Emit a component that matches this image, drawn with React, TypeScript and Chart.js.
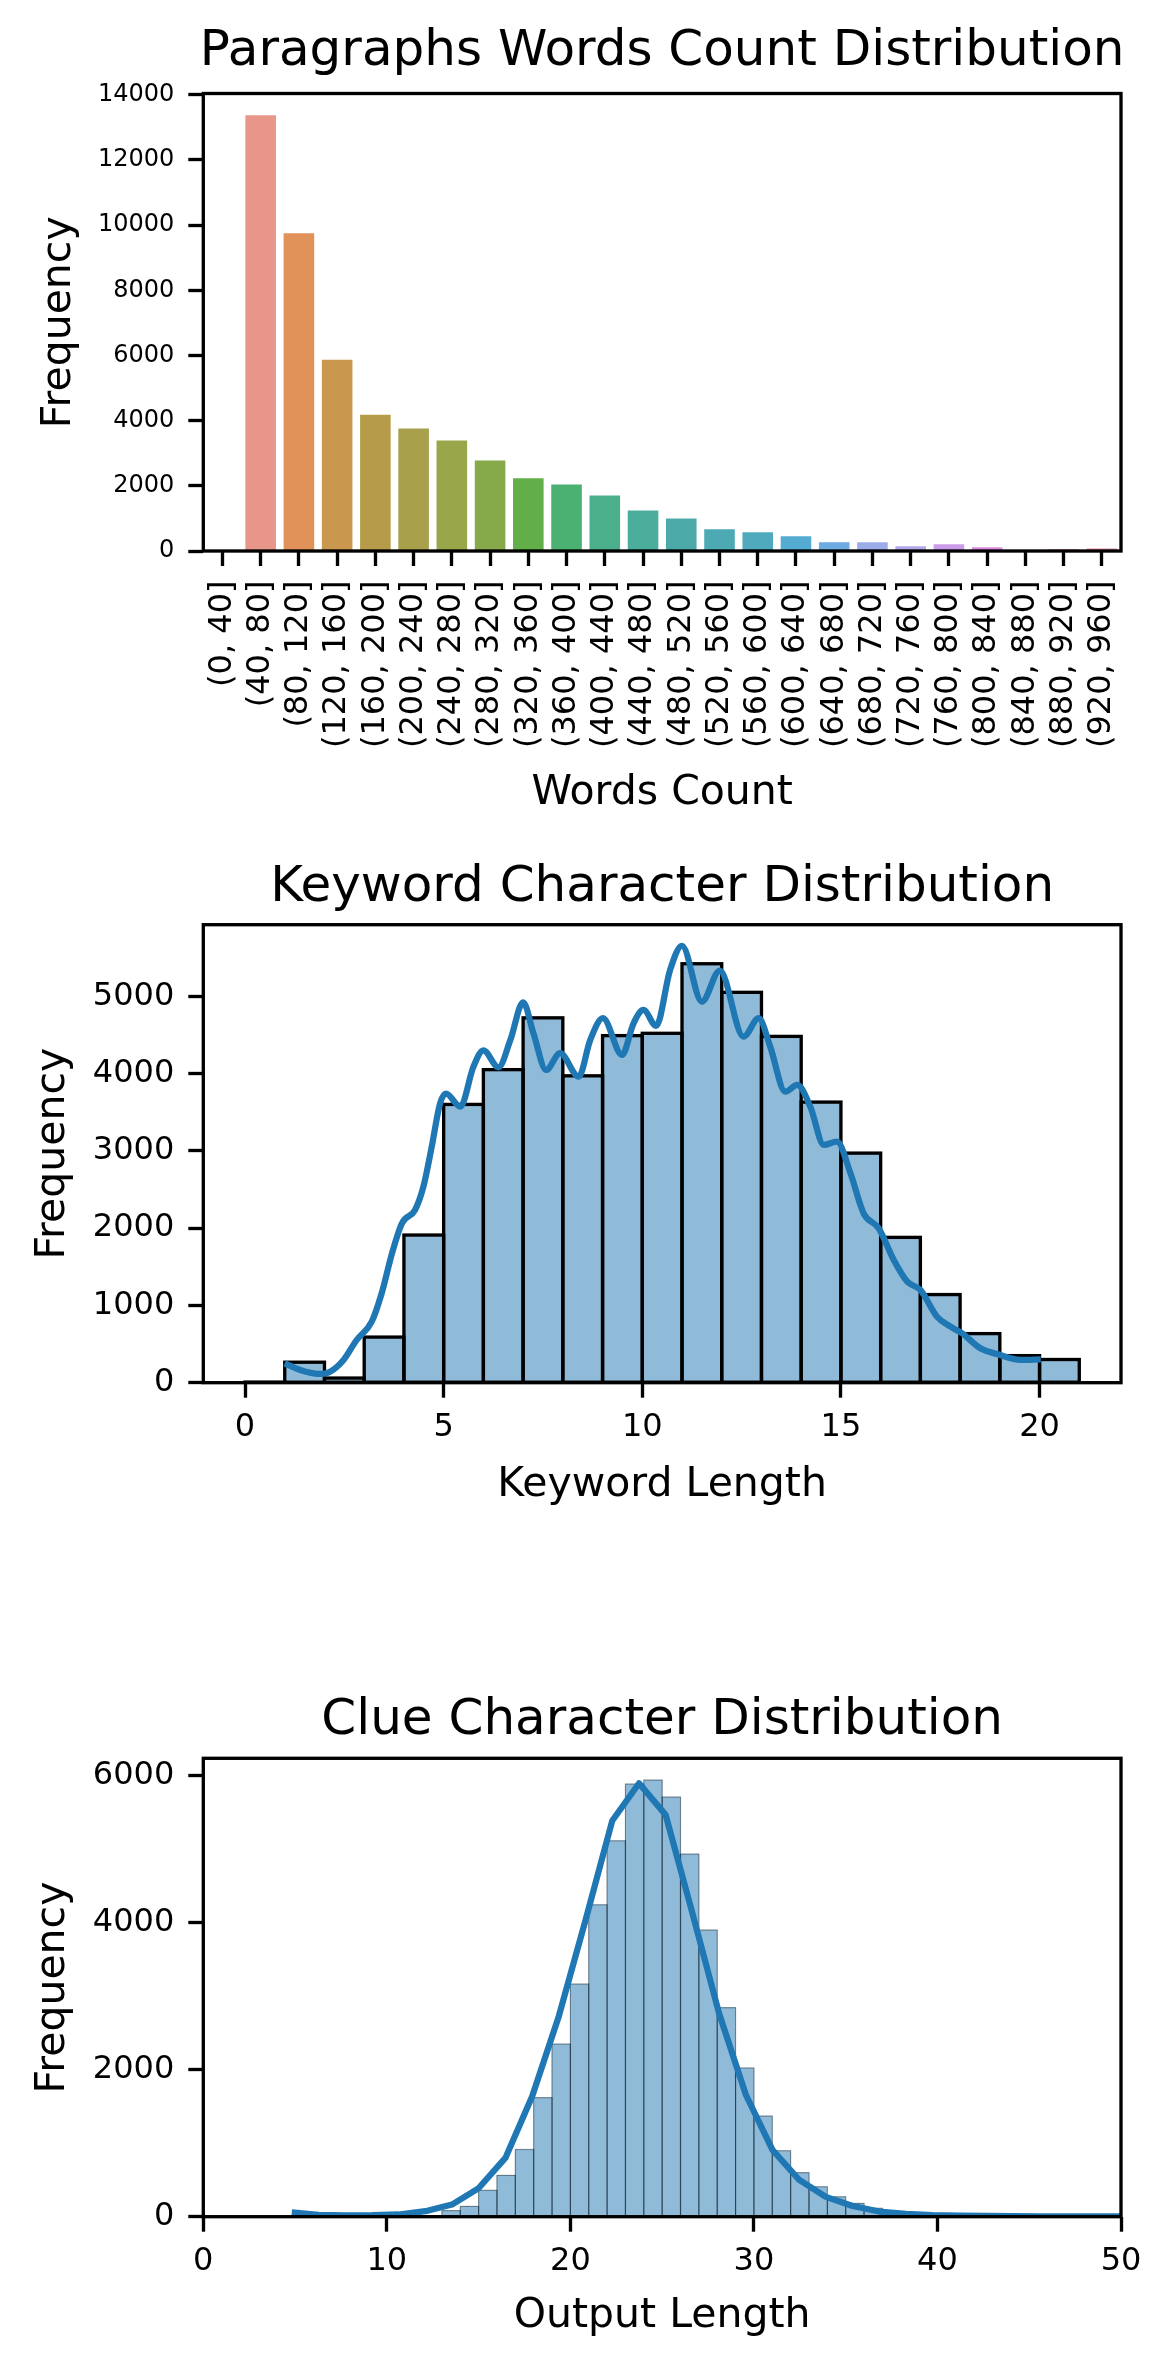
import React, { useEffect, useRef } from 'react';
import { Chart, registerables } from 'chart.js';

Chart.register(...registerables);
Chart.defaults.font.family = "'DejaVu Sans', sans-serif";
Chart.defaults.color = '#000';

// ---------- Chart 1: Paragraphs Words Count Distribution ----------
const wordBins = [
  '(0, 40]', '(40, 80]', '(80, 120]', '(120, 160]', '(160, 200]', '(200, 240]',
  '(240, 280]', '(280, 320]', '(320, 360]', '(360, 400]', '(400, 440]', '(440, 480]',
  '(480, 520]', '(520, 560]', '(560, 600]', '(600, 640]', '(640, 680]', '(680, 720]',
  '(720, 760]', '(760, 800]', '(800, 840]', '(840, 880]', '(880, 920]', '(920, 960]',
];
const wordCounts = [
  0, 13370, 9750, 5870, 4180, 3760, 3390, 2780, 2230, 2040, 1700, 1245,
  1000, 665, 575, 450, 265, 265, 145, 205, 115, 0, 50, 80,
];
const wordTicksY = [0, 2000, 4000, 6000, 8000, 10000, 12000, 14000];
const wordMaxY = 14038;
const wordColors = [
  '#E8908C', '#E8968A', '#E09258', '#C9974E', '#B69C4A', '#A8A04A', '#9AA64A', '#86AA4A',
  '#62AF4A', '#4BB173', '#4BAF8C', '#4BAD9C', '#4BAAA8', '#4DAAB4', '#50AABE', '#55ACD2',
  '#6CACE2', '#9CACE8', '#B4A8EA', '#CA9CEA', '#DC8CE0', '#E488C8', '#E389B4', '#E58A9E',
];

// ---------- Chart 2: Keyword Character Distribution ----------
const kwBinStart = [0, 1, 2, 3, 4, 5, 6, 7, 8, 9, 10, 11, 12, 13, 14, 15, 16, 17, 18, 19, 20];
const kwCounts = [8, 265, 60, 590, 1910, 3600, 4050, 4720, 3970, 4490, 4520, 5420, 5050, 4480, 3630, 2970, 1880, 1140, 635, 350, 300];
const kwKdeX = [
  1.0, 1.39, 1.85, 2.14, 2.48, 2.81, 3.19, 3.44, 3.7, 3.95, 4.28, 4.49, 4.7, 4.91, 5.06, 5.42,
  5.75, 6.0, 6.38, 6.68, 7.0, 7.26, 7.58, 7.93, 8.4, 8.69, 9.01, 9.49, 9.78, 10.03, 10.35, 10.7,
  11.0, 11.5, 11.95, 12.55, 12.93, 13.22, 13.6, 13.9, 14.23, 14.57, 14.9, 15.24, 15.57, 15.95,
  16.33, 16.67, 17.0, 17.42, 17.76, 18.05, 18.51, 18.93, 19.52, 20.03,
];
const kwKdeY = [
  251, 164, 113, 142, 294, 552, 790, 1157, 1674, 2062, 2235, 2536, 3054, 3615, 3740, 3571,
  4089, 4300, 4080, 4434, 4920, 4521, 4046, 4262, 3960, 4434, 4715, 4240, 4650, 4822, 4616, 5340,
  5651, 4930, 5331, 4477, 4715, 4348, 3765, 3852, 3571, 3076, 3119, 2710, 2192, 1998,
  1588, 1307, 1200, 854, 725, 639, 445, 371, 294, 303,
];
const kwTicksX = [0, 5, 10, 15, 20];
const kwTicksY = [0, 1000, 2000, 3000, 4000, 5000];
const kwRangeX = [-1.05, 22.05];
const kwMaxY = 5925;

// ---------- Chart 3: Clue Character Distribution ----------
const clueBinStart = [12, 13, 14, 15, 16, 17, 18, 19, 20, 21, 22, 23, 24, 25, 26, 27, 28, 29, 30, 31, 32, 33, 34, 35, 36, 37, 38, 39, 40, 41, 42, 43, 44, 45];
const clueCounts = [15, 82, 140, 360, 562, 915, 1620, 2350, 3167, 4246, 5117, 5889, 5943, 5712, 4936, 3902, 2845, 2024, 1370, 898, 599, 408, 272, 181, 115, 70, 40, 25, 15, 10, 6, 4, 3, 2];
const clueKdeX = [
  4.82, 6.28, 7.73, 9.19, 10.64, 12.1, 13.55, 15.01, 16.46, 17.92, 19.37, 20.83, 22.28, 23.74,
  25.19, 26.65, 28.1, 29.56, 31.01, 32.47, 33.92, 35.38, 36.83, 38.29, 39.74, 41.2, 42.65,
  44.11, 45.56, 47.02, 48.47, 49.93, 51.38,
];
const clueKdeY = [
  60, 25, 18, 20, 30, 75, 165, 390, 800, 1640, 2730, 4040, 5390, 5900,
  5470, 4130, 2770, 1660, 910, 500, 270, 145, 70, 38, 22, 14, 10,
  8, 6, 5, 4, 4, 3,
];
const clueTicksX = [0, 10, 20, 30, 40, 50];
const clueTicksY = [0, 2000, 4000, 6000];
const clueRangeX = [0, 50];
const clueMaxY = 6240;

// ---------- layout constants ----------
const W = 1171;
const AREA_LEFT = 203.3;
const AREA_RIGHT = 1121;
const SPINE = 3.33;
const TICK_LEN = 15;
const BLUE = '#1f77b4';
const BLUE_FILL = 'rgba(31,119,180,0.5)';

const framePlugin = {
  id: 'frame',
  afterDraw(chart: any) {
    const { ctx, chartArea: a } = chart;
    ctx.save();
    ctx.strokeStyle = '#000';
    ctx.lineWidth = SPINE;
    ctx.strokeRect(a.left, a.top, a.right - a.left, a.bottom - a.top);
    ctx.restore();
  },
};

// Axes title centred over the plotting area (like matplotlib's ax.set_title)
const axTitlePlugin = {
  id: 'axTitle',
  afterDraw(chart: any, _args: any, opts: any) {
    if (!opts || !opts.text) return;
    const { ctx, chartArea: a } = chart;
    ctx.save();
    ctx.fillStyle = '#000';
    ctx.font = "normal 50px 'DejaVu Sans', sans-serif";
    ctx.textAlign = 'center';
    ctx.textBaseline = 'middle';
    ctx.fillText(opts.text, (a.left + a.right) / 2, opts.y);
    ctx.restore();
  },
};

const edgePlugin = {
  id: 'barEdges',
  afterDatasetDraw(chart: any, args: any, opts: any) {
    const ds = chart.data.datasets[args.index];
    if (!opts || !opts.width || ds.type !== 'bar') return;
    const { ctx } = chart;
    ctx.save();
    ctx.beginPath();
    ctx.rect(chart.chartArea.left, chart.chartArea.top, chart.chartArea.right - chart.chartArea.left, chart.chartArea.bottom - chart.chartArea.top);
    ctx.clip();
    ctx.strokeStyle = opts.color;
    ctx.lineWidth = opts.width;
    for (const el of args.meta.data) {
      const p = el.getProps(['x', 'y', 'base', 'width'], true);
      const top = Math.min(p.y, p.base);
      const h = Math.abs(p.base - p.y);
      ctx.strokeRect(p.x - p.width / 2, top, p.width, h);
    }
    ctx.restore();
  },
};

function tickGrid() {
  return {
    display: true,
    drawOnChartArea: false,
    drawTicks: true,
    tickLength: TICK_LEN,
    tickWidth: SPINE,
    tickColor: '#000',
    offset: false,
  };
}

function yScale(ticks: number[], max: number, fontSize: number, titlePad: number) {
  return {
    type: 'linear',
    min: 0,
    max,
    afterBuildTicks: (s: any) => { s.ticks = ticks.map((v) => ({ value: v })); },
    afterFit: (s: any) => { s.width = AREA_LEFT; },
    border: { display: false },
    grid: tickGrid(),
    ticks: { font: { size: fontSize }, color: '#000', padding: 14, callback: (v: any) => String(v) },
    title: { display: true, text: 'Frequency', font: { size: 41 }, color: '#000', padding: { top: titlePad, bottom: 0 } },
  };
}

function makeWords(): any {
  return {
    type: 'bar',
    data: {
      labels: wordBins,
      datasets: [{ data: wordCounts, backgroundColor: wordColors, borderWidth: 0, categoryPercentage: 0.8, barPercentage: 1 }],
    },
    options: {
      responsive: false,
      animation: false,
      devicePixelRatio: 1,
      layout: { padding: { left: 0, right: W - AREA_RIGHT, top: 93.5, bottom: 0 } },
      plugins: {
        legend: { display: false },
        tooltip: { enabled: false },
        title: { display: false },
        axTitle: { text: 'Paragraphs Words Count Distribution', y: 52.5 },
        barEdges: { width: 0 },
      },
      scales: {
        x: {
          type: 'category',
          offset: true,
          afterFit: (s: any) => { s.height = 840 - 551; },
          border: { display: false },
          grid: tickGrid(),
          ticks: { font: { size: 32 }, color: '#000', padding: 14.5, autoSkip: false, minRotation: 90, maxRotation: 90 },
          title: { display: true, text: 'Words Count', font: { size: 41 }, color: '#000', padding: { top: 0, bottom: 22 } },
        },
        y: yScale(wordTicksY, wordMaxY, 24, 34.4),
      },
    },
    plugins: [framePlugin, edgePlugin, axTitlePlugin],
  };
}

function makeHist(
  binStart: number[], counts: number[], kdeX: number[], kdeY: number[],
  ticksX: number[], ticksY: number[], rangeX: number[], maxY: number,
  title: string, titleY: number, areaTop: number, xTitle: string,
  canvasH: number, areaBottom: number, xTitleBottom: number,
  edgeColor: string, edgeWidth: number, smooth: boolean,
): any {
  const bars = binStart.map((b, i) => ({ x: b + 0.5, y: counts[i] }));
  const kde = kdeX.map((x, i) => ({ x, y: kdeY[i] }));
  return {
    type: 'bar',
    data: {
      datasets: [
        {
          type: 'line', data: kde, borderColor: BLUE, borderWidth: 6.25, pointRadius: 0,
          fill: false, order: 0, tension: smooth ? 0.4 : 0,
          cubicInterpolationMode: smooth ? 'monotone' : 'default',
          borderJoinStyle: 'round', borderCapStyle: 'butt',
        },
        {
          type: 'bar', data: bars, backgroundColor: BLUE_FILL, borderWidth: 0,
          barPercentage: 1, categoryPercentage: 1, order: 1,
        },
      ],
    },
    options: {
      responsive: false,
      animation: false,
      devicePixelRatio: 1,
      layout: { padding: { left: 0, right: W - AREA_RIGHT, top: areaTop, bottom: 0 } },
      plugins: {
        legend: { display: false },
        tooltip: { enabled: false },
        title: { display: false },
        axTitle: { text: title, y: titleY },
        barEdges: { width: edgeWidth, color: edgeColor },
      },
      scales: {
        x: {
          type: 'linear',
          min: rangeX[0],
          max: rangeX[1],
          offset: false,
          afterBuildTicks: (s: any) => { s.ticks = ticksX.map((v) => ({ value: v })); },
          afterFit: (s: any) => { s.height = canvasH - areaBottom; },
          border: { display: false },
          grid: tickGrid(),
          ticks: { font: { size: 32 }, color: '#000', padding: 11, callback: (v: any) => String(v) },
          title: { display: true, text: xTitle, font: { size: 41 }, color: '#000', padding: { top: 0, bottom: xTitleBottom } },
        },
        y: yScale(ticksY, maxY, 32, 29),
      },
    },
    plugins: [framePlugin, edgePlugin, axTitlePlugin],
  };
}

function ChartBox({ top, height, make }: { top: number; height: number; make: () => any }) {
  const ref = useRef<HTMLCanvasElement>(null);
  useEffect(() => {
    const chart = new Chart(ref.current as HTMLCanvasElement, make());
    return () => chart.destroy();
  }, []);
  return (
    <canvas
      ref={ref}
      width={W}
      height={height}
      style={{ position: 'absolute', left: 0, top, width: W, height, display: 'block' }}
    />
  );
}

export default function App() {
  return (
    <div style={{ position: 'absolute', left: 0, top: 0, width: W, height: 2368, background: '#fff', overflow: 'hidden' }}>
      <ChartBox top={0} height={840} make={makeWords} />
      <ChartBox
        top={840}
        height={720}
        make={() => makeHist(kwBinStart, kwCounts, kwKdeX, kwKdeY, kwTicksX, kwTicksY, kwRangeX, kwMaxY,
          'Keyword Character Distribution', 48, 84.7, 'Keyword Length', 720, 542.7, 50.5, '#000', 3.33, true)}
      />
      <ChartBox
        top={1660}
        height={708}
        make={() => makeHist(clueBinStart, clueCounts, clueKdeX, clueKdeY, clueTicksX, clueTicksY, clueRangeX, clueMaxY,
          'Clue Character Distribution', 61, 98.3, 'Output Length', 708, 556.7, 27.4, 'rgba(0,0,0,0.35)', 1.2, false)}
      />
    </div>
  );
}
